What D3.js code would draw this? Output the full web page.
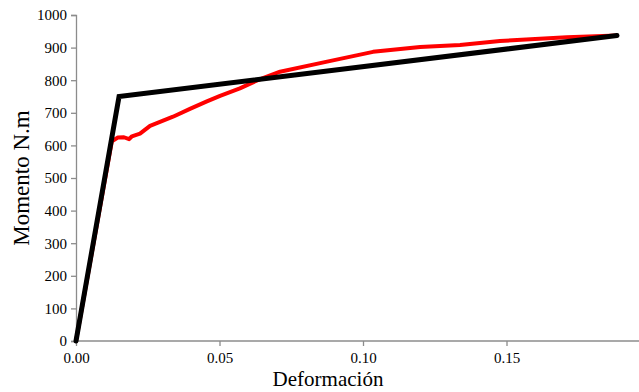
<!DOCTYPE html>
<html>
<head>
<meta charset="utf-8">
<script src="https://cdn.jsdelivr.net/npm/d3@7"></script>
<style>
  html, body { margin: 0; padding: 0; background: #fff; }
  svg { display: block; }
</style>
</head>
<body>
<div id="chart"></div>
<script>
// # Data.
const redX = [0, 0.0125, 0.0146, 0.0167, 0.0185, 0.0195, 0.0205, 0.0223, 0.0258, 0.0338, 0.0397, 0.0456, 0.0502, 0.0571, 0.0633, 0.0711, 0.0875, 0.1035, 0.1199, 0.1338, 0.1477, 0.171, 0.1885]
const redY = [0, 613, 624, 625, 619, 628, 631, 636, 660, 688, 712, 735, 752, 775, 800, 826, 857, 887, 902, 908, 920, 932, 937]
const blackX = [0, 0.015, 0.1885]
const blackY = [0, 750, 937]
const xTicks = [0, 0.05, 0.10, 0.15]
const yTicks = [0, 100, 200, 300, 400, 500, 600, 700, 800, 900, 1000]

const width = 639, height = 392
const axisColor = '#8c8c8c'
const font = '"Liberation Serif", "Times New Roman", serif'

let svg = d3.select('#chart')
    .append('svg')
    .attr('width', width)
    .attr('height', height)

// # Scales.
let x = d3.scaleLinear().domain([0, 0.2]).range([76, 650])
let y = d3.scaleLinear().domain([0, 1000]).range([341, 15])

// # Axes.
let xAxis = svg.append('g')
    .attr('transform', `translate(0, ${y(0)})`)
    .call(d3.axisBottom(x).tickValues(xTicks).tickFormat(d3.format('.2f')).tickSizeOuter(0).tickSize(5))
let yAxis = svg.append('g')
    .attr('transform', `translate(${x(0)}, 0)`)
    .call(d3.axisLeft(y).tickValues(yTicks).tickFormat(d3.format('d')).tickSizeOuter(0).tickSize(5))

for (let ax of [xAxis, yAxis]) {
    ax.attr('font-family', font).attr('font-size', 15)
    ax.select('.domain').attr('stroke', axisColor).attr('stroke-width', 1.3)
    ax.selectAll('.tick line').attr('stroke', axisColor).attr('stroke-width', 1.3)
    ax.selectAll('.tick text').attr('fill', '#000')
}
xAxis.select('.domain').attr('d', `M${x(0)},0H${width}`)
xAxis.selectAll('.tick text').attr('dy', '0.95em')
yAxis.selectAll('.tick text').attr('x', -9)

// # Axis titles.
svg.append('text')
    .attr('x', 328)
    .attr('y', 386)
    .attr('text-anchor', 'middle')
    .attr('font-family', font)
    .attr('font-size', 21)
    .text('Deformación')
svg.append('text')
    .attr('transform', 'translate(29, 178) rotate(-90)')
    .attr('text-anchor', 'middle')
    .attr('font-family', font)
    .attr('font-size', 23)
    .text('Momento N.m')

// # Lines.
let line = d3.line().x(d => x(d[0])).y(d => y(d[1]))

svg.append('path')
    .datum(redX.map((v, i) => [v, redY[i]]))
    .attr('d', line)
    .attr('fill', 'none')
    .attr('stroke', '#ff0000')
    .attr('stroke-width', 4)
    .attr('stroke-linejoin', 'round')
    .attr('stroke-linecap', 'round')

svg.append('path')
    .datum(blackX.map((v, i) => [v, blackY[i]]))
    .attr('d', line)
    .attr('fill', 'none')
    .attr('stroke', '#000')
    .attr('stroke-width', 5)
    .attr('stroke-linejoin', 'miter')
    .attr('stroke-linecap', 'round')
</script>
</body>
</html>
